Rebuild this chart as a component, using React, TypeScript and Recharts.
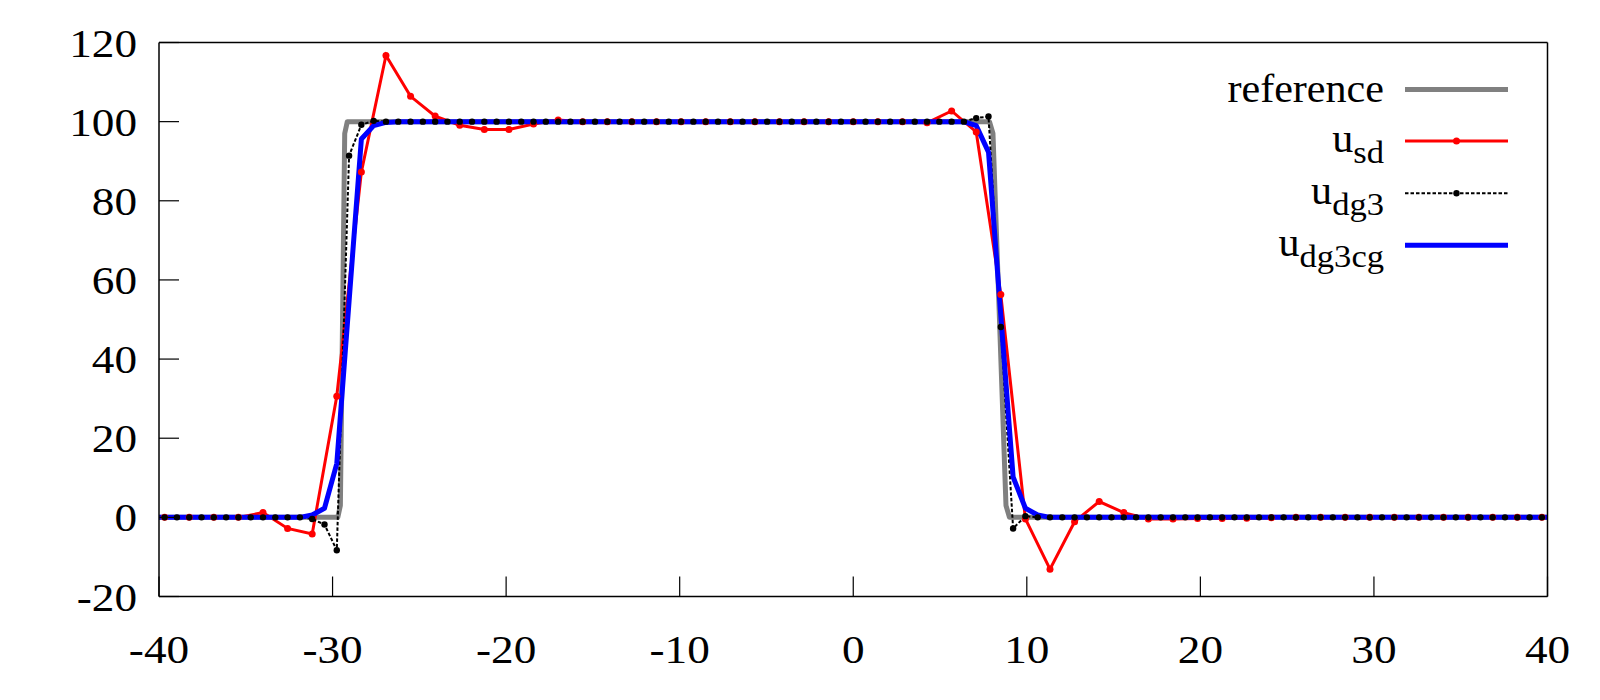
import { LineChart, Line, XAxis, YAxis } from "recharts";

const FONT = "'Liberation Serif', 'Times New Roman', serif";

// cell width of the solver grid; u_sd lives at cell centres k*H (k = -28..28),
// the dg3 samples at half steps j*H/2 (j = -56..56)
const H = 1.417;

const X_TICKS = [-40, -30, -20, -10, 0, 10, 20, 30, 40];
const Y_TICKS = [-20, 0, 20, 40, 60, 80, 100, 120];

// exact solution, sharp box with smoothed edges
const REF_X = [-40, -29.7, -29.55, -29.3, -29.15, 7.85, 8.05, 8.8, 9.0, 40];
const REF_Y = [0, 0, 3, 97, 100, 100, 97, 3, 0, 0];

// k = -28 .. 28
const SD_Y = [
  0, 0, 0, 0,
  1.2, -2.8, -4.2, 30.6, 87.3, 116.7, 106.4, 101.4, 99.1, 98.0, 98.0, 99.4, 100.4,
  100, 100, 100, 100, 100, 100, 100, 100, 100, 100, 100, 100, 100, 100,
  99.7, 102.7, 97.4, 56.3, -0.4, -13.1, -1.1, 4.0, 1.2, -0.4, -0.4, -0.3, -0.3, -0.2, -0.1,
  0, 0, 0, 0, 0, 0, 0, 0, 0, 0, 0,
];

// j = -56 .. 56
const DG3_Y = [
  0, 0, 0, 0, 0, 0, 0, 0, 0, 0, 0, 0,
  -0.4, -1.8, -8.3, 91.4, 99.2, 100.2,
  100, 100, 100, 100, 100, 100, 100, 100, 100, 100, 100, 100,
  100, 100, 100, 100, 100, 100, 100, 100, 100, 100, 100, 100,
  100, 100, 100, 100, 100, 100, 100, 100, 100, 100, 100, 100,
  100, 100, 100, 100, 100, 100, 100, 100, 100, 100, 100, 100,
  100.9, 101.3, 48.1, -2.8, 0.3,
  0, 0, 0, 0, 0, 0, 0, 0, 0, 0, 0, 0, 0, 0,
  0, 0, 0, 0, 0, 0, 0, 0, 0, 0, 0, 0, 0, 0,
  0, 0, 0, 0, 0, 0, 0, 0, 0, 0, 0, 0, 0, 0,
];

// j = -56 .. 56
const CG_Y = [
  0, 0, 0, 0, 0, 0, 0, 0, 0, 0, 0, 0,
  0.6, 2.3, 13.6, 54.6, 95.6, 99.0, 99.8,
  100, 100, 100, 100, 100, 100, 100, 100, 100, 100, 100, 100,
  100, 100, 100, 100, 100, 100, 100, 100, 100, 100, 100, 100,
  100, 100, 100, 100, 100, 100, 100, 100, 100, 100, 100, 100,
  100, 100, 100, 100, 100, 100, 100, 100, 100, 100, 100,
  99.0, 92.3, 51.0, 10.2, 2.3, 0.6,
  0, 0, 0, 0, 0, 0, 0, 0, 0, 0, 0, 0, 0, 0,
  0, 0, 0, 0, 0, 0, 0, 0, 0, 0, 0, 0, 0, 0,
  0, 0, 0, 0, 0, 0, 0, 0, 0, 0, 0, 0, 0,
];
// continuous solution values on the domain boundary
const CG_EDGE_X = [-40, 40];
const CG_EDGE_Y = [0, 0];

const refData = REF_X.map((x, i) => ({ x, y: REF_Y[i] }));
const sdData = SD_Y.map((y, i) => ({ x: (i - 28) * H, y }));
const dg3Data = DG3_Y.map((y, i) => ({ x: ((i - 56) * H) / 2, y }));
const cgData = [
  { x: CG_EDGE_X[0], y: CG_EDGE_Y[0] },
  ...CG_Y.map((y, i) => ({ x: ((i - 56) * H) / 2, y })),
  { x: CG_EDGE_X[1], y: CG_EDGE_Y[1] },
];

const TICK_LEN = 20;
const FS = 39;
// the original glyphs are a bit wider than Liberation Serif
const TICK_SX = 1.16;
const LEG_SX = 1.08;

function Label(props: any) {
  const { x, y, sx, anchor, size, children } = props;
  return (
    <text
      transform={`translate(${x} ${y}) scale(${sx} 1)`}
      textAnchor={anchor}
      fontFamily={FONT}
      fontSize={size}
      fill="#000"
    >
      {children}
    </text>
  );
}

function BottomTick(p: any) {
  const { x, y, payload } = p;
  return (
    <g>
      <line x1={x} x2={x} y1={y} y2={y - TICK_LEN} stroke="#000" strokeWidth={1.2} />
      <Label x={x} y={y + 66} sx={TICK_SX} anchor="middle" size={FS}>
        {String(payload.value)}
      </Label>
    </g>
  );
}

function TopTick(p: any) {
  const { x, y } = p;
  return <line x1={x} x2={x} y1={y} y2={y + TICK_LEN} stroke="#000" strokeWidth={1.2} />;
}

function LeftTick(p: any) {
  const { x, y, payload } = p;
  return (
    <g>
      <line x1={x} x2={x + TICK_LEN} y1={y} y2={y} stroke="#000" strokeWidth={1.2} />
      <Label x={x - 22} y={y + 14} sx={TICK_SX} anchor="end" size={FS}>
        {String(payload.value)}
      </Label>
    </g>
  );
}

function RightTick(p: any) {
  const { x, y } = p;
  return <line x1={x} x2={x - TICK_LEN} y1={y} y2={y} stroke="#000" strokeWidth={1.2} />;
}

const LEGEND = [
  { main: "reference", sub: "", y: 89.5, color: "#808080", width: 5, dash: undefined, dot: 0 },
  { main: "u", sub: "sd", y: 141, color: "#ff0000", width: 3, dash: undefined, dot: 3.5 },
  { main: "u", sub: "dg3", y: 193.3, color: "#000000", width: 2, dash: "3.5 2", dot: 3.2 },
  { main: "u", sub: "dg3cg", y: 245.3, color: "#0000ff", width: 5, dash: undefined, dot: 0 },
];

function LegendBox() {
  return (
    <svg
      width={1600}
      height={700}
      style={{ position: "absolute", left: 0, top: 0, pointerEvents: "none" }}
    >
      {LEGEND.map((r) => (
        <g key={r.main + r.sub}>
          <Label x={1384} y={r.y + (r.sub ? 10.5 : 12.4)} sx={LEG_SX} anchor="end" size={FS}>
            {r.main}
            {r.sub && (
              <tspan fontSize={32} dy={11.5}>
                {r.sub}
              </tspan>
            )}
          </Label>
          <line
            x1={1405}
            x2={1508}
            y1={r.y}
            y2={r.y}
            stroke={r.color}
            strokeWidth={r.width}
            strokeDasharray={r.dash}
          />
          {r.dot > 0 && <circle cx={1456.5} cy={r.y} r={r.dot} fill={r.color} />}
        </g>
      ))}
    </svg>
  );
}

const AXIS_LINE = { stroke: "#000", strokeWidth: 1.5 };

export default function App() {
  return (
    <div style={{ position: "absolute", left: 0, top: 0, width: 1600, height: 700, background: "#fff" }}>
      <LineChart width={1600} height={700} margin={{ top: 41.5, right: 51.5, bottom: 102.5, left: 158 }}>
        <XAxis
          xAxisId="b"
          dataKey="x"
          type="number"
          domain={[-40, 40]}
          ticks={X_TICKS}
          interval={0}
          height={1}
          tickSize={0}
          tickMargin={0}
          tickLine={false}
          axisLine={AXIS_LINE}
          tick={(p: any) => <BottomTick {...p} />}
        />
        <XAxis
          xAxisId="t"
          orientation="top"
          dataKey="x"
          type="number"
          domain={[-40, 40]}
          ticks={X_TICKS}
          interval={0}
          height={1}
          tickSize={0}
          tickMargin={0}
          tickLine={false}
          axisLine={AXIS_LINE}
          tick={(p: any) => <TopTick {...p} />}
        />
        <YAxis
          yAxisId="l"
          type="number"
          domain={[-20, 120]}
          ticks={Y_TICKS}
          interval={0}
          width={1}
          tickSize={0}
          tickMargin={0}
          tickLine={false}
          axisLine={AXIS_LINE}
          tick={(p: any) => <LeftTick {...p} />}
        />
        <YAxis
          yAxisId="r"
          orientation="right"
          type="number"
          domain={[-20, 120]}
          ticks={Y_TICKS}
          interval={0}
          width={1}
          tickSize={0}
          tickMargin={0}
          tickLine={false}
          axisLine={AXIS_LINE}
          tick={(p: any) => <RightTick {...p} />}
        />
        <Line
          xAxisId="b"
          yAxisId="l"
          data={refData}
          dataKey="y"
          type="linear"
          stroke="#808080"
          strokeWidth={5}
          strokeLinejoin="round"
          dot={false}
          activeDot={false}
          isAnimationActive={false}
        />
        <Line
          xAxisId="b"
          yAxisId="l"
          data={sdData}
          dataKey="y"
          type="linear"
          stroke="#ff0000"
          strokeWidth={3}
          dot={{ r: 3.5, fill: "#ff0000", stroke: "none" }}
          activeDot={false}
          isAnimationActive={false}
        />
        <Line
          xAxisId="b"
          yAxisId="l"
          data={dg3Data}
          dataKey="y"
          type="linear"
          stroke="#000"
          strokeWidth={2}
          strokeDasharray="3.5 2"
          dot={{ r: 3.2, fill: "#000", stroke: "none" }}
          activeDot={false}
          isAnimationActive={false}
        />
        <Line
          xAxisId="b"
          yAxisId="l"
          data={cgData}
          dataKey="y"
          type="linear"
          stroke="#0000ff"
          strokeWidth={5}
          strokeLinejoin="round"
          dot={false}
          activeDot={false}
          isAnimationActive={false}
        />
      </LineChart>
      <LegendBox />
    </div>
  );
}
